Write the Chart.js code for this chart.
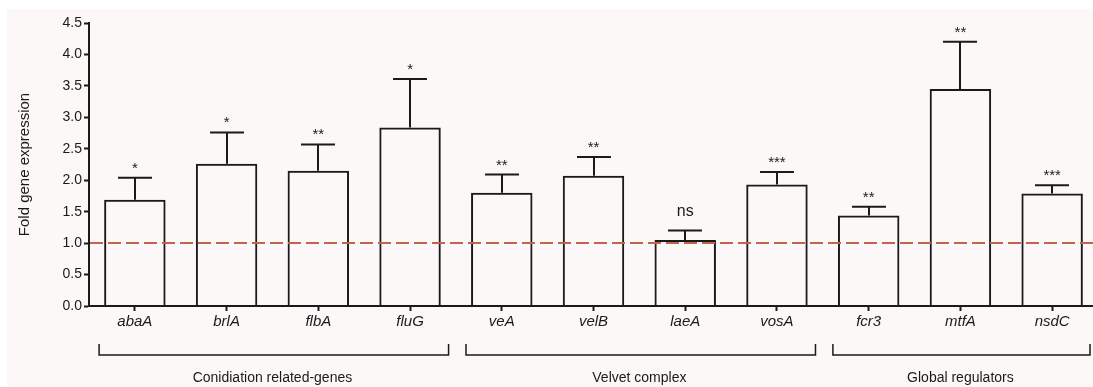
<!DOCTYPE html>
<html>
<head>
<meta charset="utf-8">
<script src="https://cdn.jsdelivr.net/npm/chart.js@4"></script>
<style>
    body { margin: 0; overflow: hidden; background: #ffffff; }
    #wrap { width: 1100px; height: 387px; position: relative; }
</style>
</head>
<body>
<div id="wrap"><canvas id="bar-chart"></canvas></div>
<script>
// Dữ liệu
const genes = ['abaA', 'brlA', 'flbA', 'fluG', 'veA', 'velB', 'laeA', 'vosA', 'fcr3', 'mtfA', 'nsdC'];
const foldValues = [1.69, 2.26, 2.15, 2.84, 1.80, 2.07, 1.05, 1.93, 1.44, 3.45, 1.79];
const errValues = [0.35, 0.50, 0.42, 0.77, 0.29, 0.30, 0.15, 0.20, 0.14, 0.75, 0.13];
const signif = ['*', '*', '**', '*', '**', '**', 'ns', '***', '**', '**', '***'];

const groupNames = ['Conidiation related-genes', 'Velvet complex', 'Global regulators'];
const groupFirst = [0, 4, 8];
const groupLast = [3, 7, 10];

const yTicks = [0, 0.5, 1.0, 1.5, 2.0, 2.5, 3.0, 3.5, 4.0, 4.5];
const baseline = 1.0;

const FONT = "'Liberation Sans', Arial, sans-serif";
const INK = '#1a1a1a';
const PAPER = '#fcf8f7';

// Nền hồng nhạt
const backgroundPlugin = {
    id: 'paper',
    beforeDraw(chart) {
        const ctx = chart.ctx;
        ctx.save();
        ctx.fillStyle = '#ffffff';
        ctx.fillRect(0, 0, chart.width, chart.height);
        ctx.fillStyle = PAPER;
        ctx.fillRect(7, 9, chart.width - 7, chart.height - 9);
        ctx.restore();
    }
};

// Thanh sai số, đường 1.0, dấu * và nhóm gen
const extrasPlugin = {
    id: 'extras',
    afterDatasetsDraw(chart) {
        const ctx = chart.ctx;
        const x = chart.scales.x;
        const y = chart.scales.y;
        const area = chart.chartArea;
        const step = x.getPixelForValue(1) - x.getPixelForValue(0);
        const capHalf = step * 0.185;

        ctx.save();
        ctx.strokeStyle = INK;
        ctx.lineWidth = 2;
        ctx.lineCap = 'butt';

        // error bars
        genes.forEach((g, i) => {
            const cx = Math.round(x.getPixelForValue(i));
            const yTop = y.getPixelForValue(foldValues[i] + errValues[i]);
            const yBar = y.getPixelForValue(foldValues[i]);
            ctx.beginPath();
            ctx.moveTo(cx, yBar);
            ctx.lineTo(cx, yTop);
            ctx.moveTo(cx - capHalf, yTop);
            ctx.lineTo(cx + capHalf, yTop);
            ctx.stroke();
        });

        // dashed reference line at 1.0
        const yb = y.getPixelForValue(baseline);
        ctx.strokeStyle = '#c5614d';
        ctx.lineWidth = 2;
        ctx.setLineDash([13, 5]);
        ctx.beginPath();
        ctx.moveTo(area.left + 1, yb);
        ctx.lineTo(area.right, yb);
        ctx.stroke();
        ctx.setLineDash([]);

        // significance marks
        ctx.fillStyle = INK;
        ctx.textAlign = 'center';
        ctx.textBaseline = 'alphabetic';
        genes.forEach((g, i) => {
            const cx = x.getPixelForValue(i);
            const yTop = y.getPixelForValue(foldValues[i] + errValues[i]);
            if (signif[i] === 'ns') {
                ctx.font = '16px ' + FONT;
                ctx.fillText(signif[i], cx, yTop - 15);
            } else {
                ctx.font = '15px ' + FONT;
                ctx.fillText(signif[i], cx, yTop - 5);
            }
        });

        // group brackets
        const lineY = 355;
        ctx.strokeStyle = INK;
        ctx.lineWidth = 1.5;
        ctx.font = '14px ' + FONT;
        ctx.textBaseline = 'middle';
        groupNames.forEach((name, k) => {
            const x1 = x.getPixelForValue(groupFirst[k] - 0.39);
            const x2 = Math.min(x.getPixelForValue(groupLast[k] + 0.42), 1090);
            ctx.beginPath();
            ctx.moveTo(x1, lineY - 11);
            ctx.lineTo(x1, lineY);
            ctx.lineTo(x2, lineY);
            ctx.lineTo(x2, lineY - 11);
            ctx.stroke();
            const mid = (x.getPixelForValue(groupFirst[k]) + x.getPixelForValue(groupLast[k])) / 2;
            ctx.fillText(name, mid, 378);
        });

        ctx.restore();
    }
};

function renderBarChart() {
    const ctx = document.getElementById('bar-chart').getContext('2d');

    new Chart(ctx, {
        type: 'bar',
        data: {
            labels: genes,
            datasets: [{
                label: 'Fold gene expression',
                data: foldValues,
                backgroundColor: 'rgba(0, 0, 0, 0)',
                borderColor: INK,
                borderWidth: 2,
                barPercentage: 0.67,
                categoryPercentage: 1.0
            }]
        },
        options: {
            responsive: true,
            maintainAspectRatio: false,
            animation: false,
            layout: { padding: { left: 0, top: 23, right: 2, bottom: 0 } },
            plugins: {
                legend: { display: false },
                tooltip: { enabled: false }
            },
            scales: {
                x: {
                    offset: true,
                    grid: {
                        offset: false,
                        drawOnChartArea: false,
                        drawTicks: true,
                        tickLength: 5,
                        tickWidth: 2,
                        tickColor: INK
                    },
                    border: { display: true, color: INK, width: 2 },
                    ticks: {
                        color: INK,
                        padding: 2,
                        maxRotation: 0,
                        autoSkip: false,
                        font: { family: FONT, size: 15, style: 'italic' }
                    },
                    afterFit(scale) { scale.height = 81; }
                },
                y: {
                    min: 0,
                    max: 4.5,
                    afterBuildTicks(scale) {
                        scale.ticks = yTicks.map(v => ({ value: v }));
                    },
                    grid: {
                        drawOnChartArea: false,
                        drawTicks: true,
                        tickLength: 5,
                        tickWidth: 2,
                        tickColor: INK
                    },
                    border: { display: true, color: INK, width: 2 },
                    ticks: {
                        color: INK,
                        padding: 2,
                        font: { family: FONT, size: 14 },
                        callback: v => Number(v).toFixed(1)
                    },
                    title: {
                        display: true,
                        text: 'Fold gene expression',
                        color: INK,
                        padding: { top: 16, bottom: 0 },
                        font: { family: FONT, size: 15 }
                    },
                    afterFit(scale) { scale.width = 89; }
                }
            }
        },
        plugins: [backgroundPlugin, extrasPlugin]
    });
}

document.addEventListener('DOMContentLoaded', renderBarChart);
</script>
</body>
</html>
